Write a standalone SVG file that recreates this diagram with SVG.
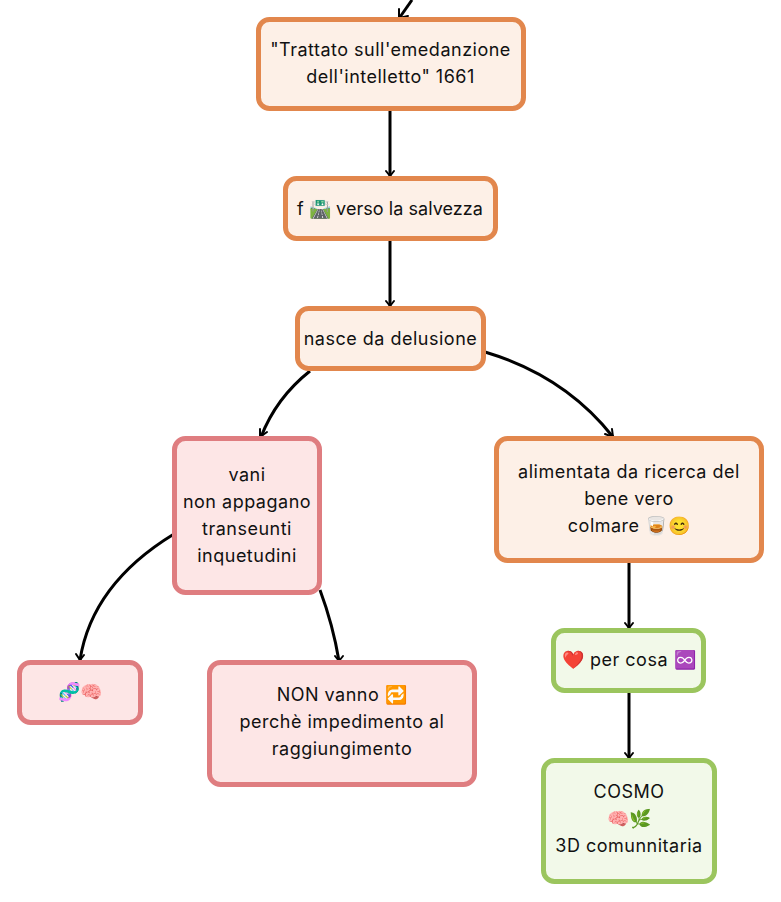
<svg xmlns="http://www.w3.org/2000/svg" width="781" height="902" viewBox="0 0 781 902">
<style>
.o rect{fill:#fdf0e7;stroke:#e2874d}
.r rect{fill:#fde6e6;stroke:#df7d80}
.g rect{fill:#f2f9e9;stroke:#9bc55e}
rect{stroke-width:5}
text{font-family:"Inter","Noto Sans",sans-serif;font-size:18px;letter-spacing:.5px;fill:#111;text-anchor:middle}
#n2 text{letter-spacing:.05px}
#connectors path{fill:none;stroke:#000;stroke-width:3}
#connectors path.h{stroke-width:2;stroke-linecap:round}
</style>
<rect width="781" height="902" fill="#fff" style="stroke:none"/>
<g id="connectors">
<path d="M412 0L400 17"/><path class="h" d="M399 9L399 18L408 16"/>
<path d="M390 108V176"/><path class="h" d="M386 171L390 176L394 171"/>
<path d="M390 238V306"/><path class="h" d="M386 301L390 306L394 301"/>
<path d="M310 371Q276 398 261 437"/><path class="h" d="M260 429L260 437L267 432"/>
<path d="M485 352Q565 376 613 437"/><path class="h" d="M605 434L613 437L612 429"/>
<path d="M174 534Q92 584 80 660"/><path class="h" d="M76 654L80 660L84 655"/>
<path d="M320 590Q333 625 339 661"/><path class="h" d="M335 656L339 661L343 656"/>
<path d="M629 560V628"/><path class="h" d="M625 623L629 628L633 623"/>
<path d="M629 690V758"/><path class="h" d="M625 753L629 758L633 753"/>
</g>
<g id="n1" class="o"><rect x="258.500" y="19.500" width="265" height="89" rx="11"/><text x="390.500" y="56">"Trattato sull'emedanzione</text><text x="390.500" y="83">dell'intelletto" 1661</text></g>
<g id="n2" class="o"><rect x="285.500" y="178.500" width="210" height="60" rx="11"/><text x="390" y="215">f 🛣️ verso la salvezza</text></g>
<g id="n3" class="o"><rect x="297.500" y="308.500" width="186" height="60" rx="11"/><text x="390.500" y="345">nasce da delusione</text></g>
<g id="n4" class="r"><rect x="174.500" y="438.500" width="145" height="154" rx="11"/><text x="247" y="481">vani</text><text x="247" y="508">non appagano</text><text x="247" y="535">transeunti</text><text x="247" y="562">inquetudini</text></g>
<g id="n5" class="o"><rect x="496.500" y="438.500" width="265" height="122" rx="11"/><text x="629" y="478">alimentata da ricerca del</text><text x="629" y="505">bene vero</text><text x="629" y="532">colmare 🥃😊</text></g>
<g id="n6" class="r"><rect x="19.500" y="662.500" width="121" height="60" rx="11"/><text x="80" y="698">🧬🧠</text></g>
<g id="n7" class="r"><rect x="209.500" y="662.500" width="265" height="122" rx="11"/><text x="342" y="701">NON vanno 🔁</text><text x="342" y="728">perchè impedimento al</text><text x="342" y="755">raggiungimento</text></g>
<g id="n8" class="g"><rect x="553.500" y="630.500" width="150" height="60" rx="11"/><text x="629" y="666">❤️ per cosa ♾️</text></g>
<g id="n9" class="g"><rect x="543.500" y="760.500" width="171" height="121" rx="11"/><text x="629" y="798">COSMO</text><text x="629" y="825">🧠🌿</text><text x="629" y="852">3D comunnitaria</text></g>
</svg>
